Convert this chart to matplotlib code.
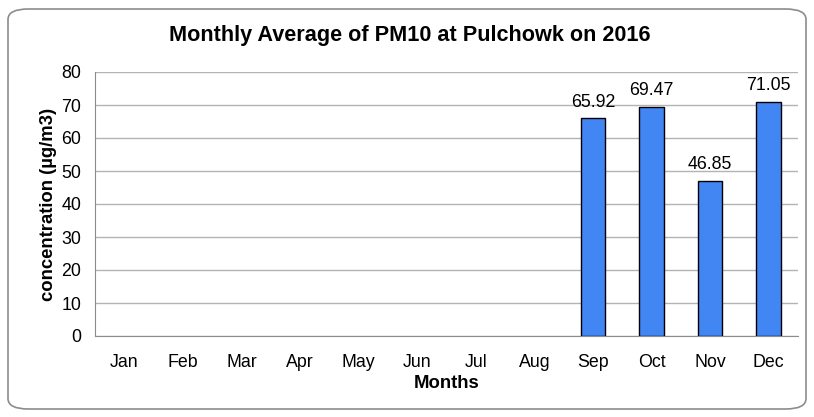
import numpy as np
import matplotlib.pyplot as plt
from matplotlib.patches import FancyBboxPatch

plt.rcParams['font.family'] = ['Liberation Sans', 'DejaVu Sans']

months = ['Jan', 'Feb', 'Mar', 'Apr', 'May', 'Jun', 'Jul', 'Aug', 'Sep', 'Oct', 'Nov', 'Dec']
pm10 = [0, 0, 0, 0, 0, 0, 0, 0, 65.92, 69.47, 46.85, 71.05]
yticks = [0, 10, 20, 30, 40, 50, 60, 70, 80]

fig = plt.figure(figsize=(8.14, 4.17), dpi=100)
# rounded chart border
border = FancyBboxPatch((8 / 814, 8 / 417), 798 / 814, 400 / 417,
                        boxstyle='round,pad=0,rounding_size=0.025',
                        transform=fig.transFigure, fill=False,
                        edgecolor='#8c8c8c', linewidth=1.2)
fig.patches.append(border)

ax = fig.add_axes([95 / 814, 81 / 417, 703 / 814, 264 / 417])
x = np.arange(len(months))
vals = np.array(pm10)
mask = vals > 0
bars = ax.bar(x[mask], vals[mask], width=0.42, color='#4286f4',
              edgecolor='black', linewidth=1.0, zorder=3)
for xi, v in zip(x[mask], vals[mask]):
    ax.text(xi, v + 2.4, '%.2f' % v, ha='center', va='bottom', fontsize=12.8)

ax.set_xlim(-0.5, len(months) - 0.5)
ax.set_ylim(0, 80)
ax.set_yticks(yticks)
ax.set_xticks(x)
ax.set_xticklabels(months)
ax.tick_params(axis='both', length=0, labelsize=12.8)
ax.tick_params(axis='x', pad=13)
ax.tick_params(axis='y', pad=10)
ax.yaxis.grid(True, color='#b3b3b3', linewidth=1.0, zorder=0)
for side in ['top', 'right']:
    ax.spines[side].set_visible(False)
for side in ['left', 'bottom']:
    ax.spines[side].set_color('#8c8c8c')
ax.set_axisbelow(True)

ax.set_xlabel('Months', fontsize=13.3, fontweight='bold', labelpad=3)
ax.set_ylabel('concentration (µg/m3)', fontsize=13.3, fontweight='bold', labelpad=3)
fig.text(410 / 814, 1 - 35 / 417, 'Monthly Average of PM10 at Pulchowk on 2016',
         ha='center', va='center', fontsize=15.6, fontweight='bold')

fig.savefig('out.png', dpi=100)
